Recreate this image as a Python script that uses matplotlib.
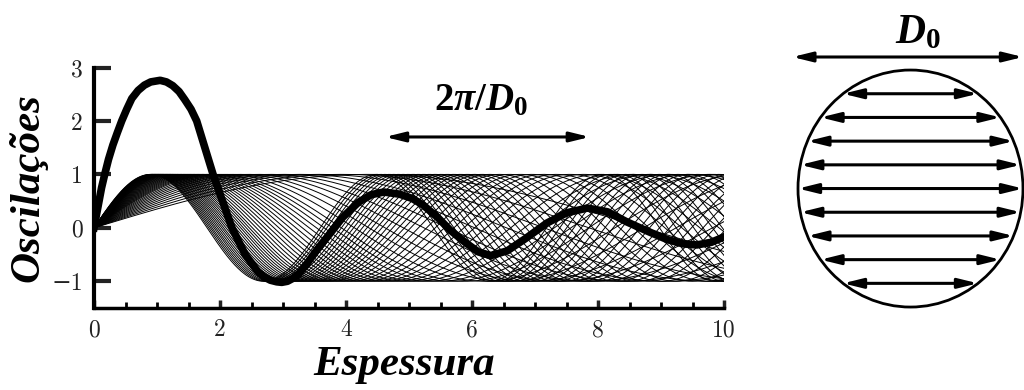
import numpy as np
import matplotlib.pyplot as plt
from matplotlib.patches import Ellipse
from matplotlib.ticker import MultipleLocator

plt.rcParams['mathtext.fontset'] = 'custom'
plt.rcParams['mathtext.it'] = 'Liberation Serif:italic:bold'
plt.rcParams['mathtext.rm'] = 'Liberation Serif:bold'

# wave numbers of the thin oscillations (one per chord)
freqs = [1.750, 1.725, 1.700, 1.675, 1.650, 1.625, 1.600, 1.575, 1.550, 1.525,
         1.500, 1.475, 1.450, 1.425, 1.400, 1.375, 1.350, 1.325, 1.300, 1.275,
         1.250, 1.220, 1.190, 1.160, 1.130, 1.100, 1.070, 1.040, 1.010, 0.980,
         0.950, 0.920, 0.890, 0.860, 0.830, 0.800, 0.760, 0.720, 0.680, 0.640,
         0.600, 0.560, 0.520, 0.480, 0.440, 0.400, 0.360]

# thick curve (total oscillation)
thick_x = [0.0, 0.04, 0.08, 0.12, 0.17, 0.23, 0.3, 0.37, 0.44, 0.52, 0.6, 0.7,
           0.8, 0.9, 1.05, 1.15, 1.25, 1.35, 1.44, 1.54, 1.63, 1.76, 1.89, 2.04,
           2.19, 2.4, 2.6, 2.7, 2.8, 2.9, 2.98, 3.07, 3.15, 3.25, 3.35, 3.54,
           3.75, 3.95, 4.2, 4.4, 4.6, 4.85, 5.05, 5.22, 5.45, 5.65, 5.9, 6.1,
           6.3, 6.56, 6.85, 7.19, 7.5, 7.83, 8.15, 8.46, 8.8, 9.1, 9.35, 9.57,
           9.8, 10.0]
thick_y = [0.0, 0.25, 0.5, 0.75, 1.0, 1.28, 1.55, 1.78, 2.0, 2.22, 2.42, 2.57,
           2.67, 2.73, 2.76, 2.73, 2.66, 2.55, 2.4, 2.22, 2.0, 1.5, 1.0, 0.5,
           0.0, -0.5, -0.82, -0.92, -0.98, -1.01, -1.02, -1.0, -0.95, -0.86, -0.72, -0.41,
           -0.1, 0.2, 0.48, 0.62, 0.67, 0.63, 0.55, 0.43, 0.2, -0.04, -0.28, -0.45,
           -0.52, -0.43, -0.2, 0.09, 0.28, 0.37, 0.3, 0.11, -0.07, -0.22, -0.3, -0.32,
           -0.27, -0.17]

# chord heights inside the circle (units of radius)
chord_heights = [0.8, 0.6, 0.4, 0.2, 0.0, -0.2, -0.4, -0.6, -0.8]

xticks = [0, 2, 4, 6, 8, 10]
yticks = [-1, 0, 1, 2, 3]
ytick_labels = ['\u22121', '0', '1', '2', '3']

tick_font = ['cmr10', 'DejaVu Serif']

fig = plt.figure(figsize=(10.24, 3.9), dpi=100)

# left panel: oscillations
ax = fig.add_axes([94 / 1024, 82 / 390, 630 / 1024, 240.5 / 390])
x = np.linspace(0, 10, 1000)
for q in freqs:
    ax.plot(x, np.sin(q * x), color='k', lw=0.7)
ax.plot(thick_x, thick_y, color='k', lw=5.5, solid_joinstyle='round')

ax.set_xlim(0, 10)
ax.set_ylim(-1.5, 3.0)
ax.spines['top'].set_visible(False)
ax.spines['right'].set_visible(False)
ax.spines['left'].set_linewidth(3)
ax.spines['bottom'].set_linewidth(2.5)

ax.set_xticks(xticks)
ax.set_xticklabels([str(v) for v in xticks], family=tick_font)
ax.set_yticks(yticks)
ax.set_yticklabels(ytick_labels, family=tick_font)
ax.xaxis.set_minor_locator(MultipleLocator(0.5))
ax.tick_params(axis='y', direction='in', length=12, width=3, pad=8, labelsize=17, colors='#222222')
ax.tick_params(axis='x', which='major', direction='in', length=6, width=2.5, pad=8, labelsize=17, colors='#222222')
ax.tick_params(axis='x', which='minor', direction='in', length=4, width=2)

fig.text(0.395, 0.064, 'Espessura', fontsize=31, family='Liberation Serif',
         weight='bold', style='italic', ha='center', va='center')
fig.text(0.027, 0.518, 'Oscilações', fontsize=31, family='Liberation Serif',
         weight='bold', style='italic', ha='center', va='center', rotation=90)

arrow_kw = dict(arrowstyle='<|-|>,head_length=0.65,head_width=0.16',
                mutation_scale=18, lw=2.2, color='k', shrinkA=0, shrinkB=0)

# period annotation
ax.annotate('', xy=(7.87, 1.70), xytext=(4.62, 1.70), arrowprops=arrow_kw)
ax.text(6.15, 2.4, r'$\mathit{2\pi/D_0}$', fontsize=28, ha='center', va='center')

# right panel: circle with chords
ax2 = fig.add_axes([780 / 1024, 0, 244 / 1024, 1])
ax2.set_xlim(-1.16, 1.009)
ax2.set_ylim(-1.70, 1.591)
ax2.axis('off')
ax2.add_patch(Ellipse((0, 0), 2, 2, fill=False, lw=2, color='k', clip_on=False))

for h in chord_heights:
    half = np.sqrt(1 - h * h)
    ax2.annotate('', xy=(half, h), xytext=(-half, h), arrowprops=arrow_kw,
                 annotation_clip=False)

ax2.annotate('', xy=(1.0, 1.11), xytext=(-1.05, 1.11), arrowprops=arrow_kw,
             annotation_clip=False)
ax2.text(0.07, 1.33, r'$\mathit{D_0}$', fontsize=30, ha='center', va='center')

fig.savefig('out.png', dpi=100)
